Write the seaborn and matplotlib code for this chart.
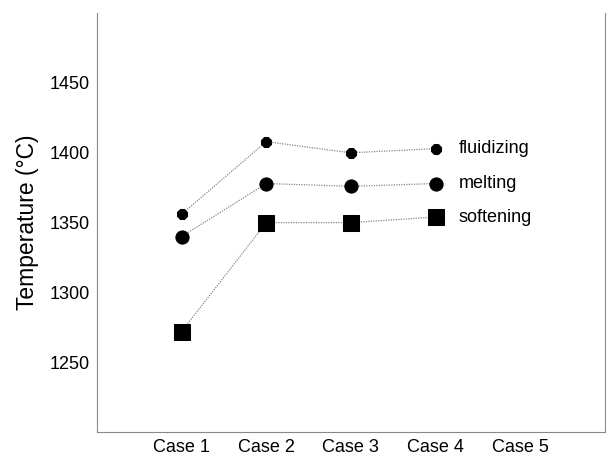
import matplotlib
matplotlib.use("Agg")
import matplotlib.pyplot as plt
import numpy as np
import pandas as pd
import seaborn as sns

cases = ["Case 1", "Case 2", "Case 3", "Case 4", "Case 5"]
fluidizing = [1356, 1408, 1400, 1403]
melting = [1340, 1378, 1376, 1378]
softening = [1272, 1350, 1350, 1354]

sns.set_style("white", {"text.color": "black", "axes.labelcolor": "black",
                        "xtick.color": "black", "ytick.color": "black"})
plt.rcParams["font.family"] = ["Liberation Sans", "DejaVu Sans"]

fig = plt.figure(figsize=(6.06, 4.55), dpi=100)
ax = fig.add_axes([0.160, 0.0505, 0.838, 0.9205])

series = [
    ("fluidizing", fluidizing, "8", 8),
    ("melting", melting, "o", 9.5),
    ("softening", softening, "s", 11),
]
for name, vals, mk, ms in series:
    df = pd.DataFrame({"x": np.arange(len(vals)), "y": vals})
    sns.lineplot(data=df, x="x", y="y", ax=ax, color="#888888", lw=0.9,
                 linestyle=(0, (1, 1)), marker=mk, markersize=ms,
                 markerfacecolor="black", markeredgecolor="black")
    ax.text(len(vals) - 1 + 0.27, vals[-1], name, fontsize=13,
            va="center", ha="left", color="black")

ax.set_xlim(-1, 5)
ax.set_ylim(1200, 1500)
ax.set_xticks(range(len(cases)))
ax.set_xticklabels(cases, fontsize=13)
ax.set_yticks([1250, 1300, 1350, 1400, 1450])
ax.tick_params(axis="both", direction="in", length=3, width=0.6,
               color="#777777", labelcolor="black", labelsize=13)
ax.tick_params(axis="x", pad=5)
ax.tick_params(axis="y", pad=5)
ax.set_xlabel("")
ax.set_ylabel("Temperature (°C)", fontsize=16.5, labelpad=8, color="black")

ax.spines["top"].set_visible(False)
for s in ["left", "bottom", "right"]:
    ax.spines[s].set_linestyle((0, (2, 1)))
    ax.spines[s].set_color("#888888")
    ax.spines[s].set_linewidth(0.8)

fig.savefig("out.png", dpi=100)
